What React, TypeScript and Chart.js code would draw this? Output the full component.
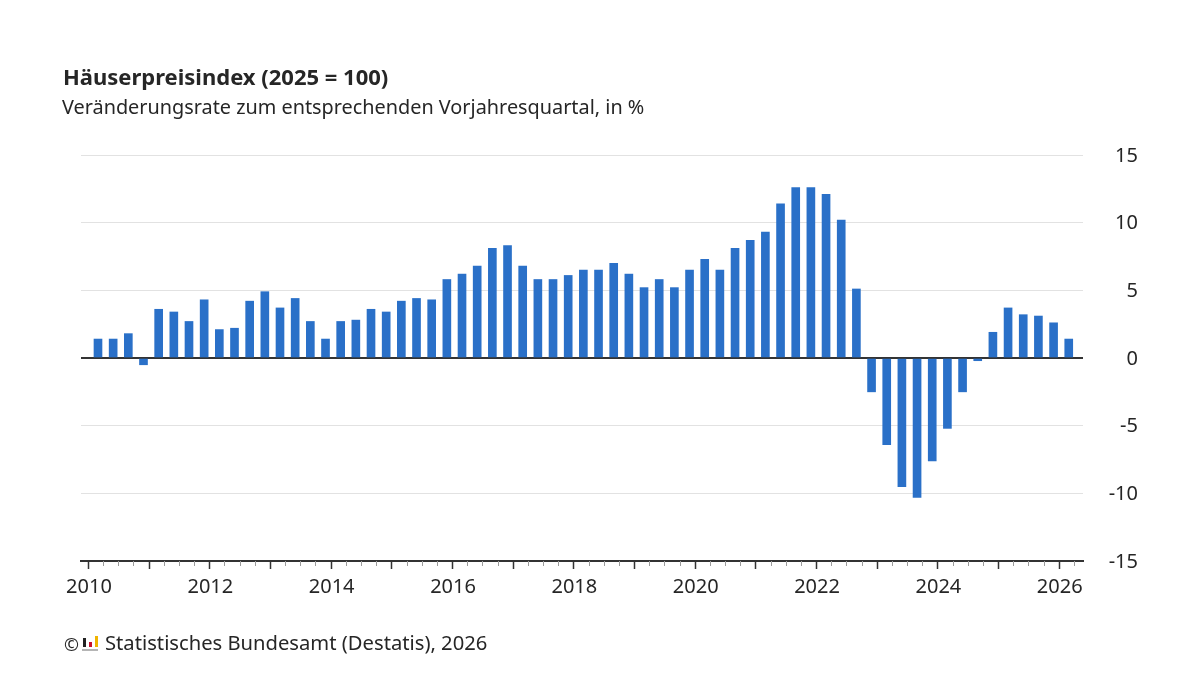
import { useEffect, useRef } from "react";
import Chart from "chart.js/auto";

const FONT = '"Noto Sans", sans-serif';
const TEXT_COLOR = "#262626";

const titleText = "Häuserpreisindex (2025 = 100)";
const subtitleText = "Veränderungsrate zum entsprechenden Vorjahresquartal, in %";
const sourceText = "Statistisches Bundesamt (Destatis), 2026";

const firstYear = 2010;
const yTicks = [-15, -10, -5, 0, 5, 10, 15];
const changeRates = [
  1.4, 1.4, 1.8, -0.5,
  3.6, 3.4, 2.7, 4.3,
  2.1, 2.2, 4.2, 4.9,
  3.7, 4.4, 2.7, 1.4,
  2.7, 2.8, 3.6, 3.4,
  4.2, 4.4, 4.3, 5.8,
  6.2, 6.8, 8.1, 8.3,
  6.8, 5.8, 5.8, 6.1,
  6.5, 6.5, 7.0, 6.2,
  5.2, 5.8, 5.2, 6.5,
  7.3, 6.5, 8.1, 8.7,
  9.3, 11.4, 12.6, 12.6,
  12.1, 10.2, 5.1, -2.5,
  -6.4, -9.5, -10.3, -7.6,
  -5.2, -2.5, -0.2, 1.9,
  3.7, 3.2, 3.1, 2.6,
  1.4,
];

// bars sit a bit right of the quarter tick in the original
const barShift = 0.165;

// short ticks every quarter, longer ones on full years
const axisTickMarks = {
  id: "axisTickMarks",
  afterDatasetsDraw(chart: any) {
    const scale = chart.scales.x;
    const ctx = chart.ctx;
    const bottom = chart.chartArea.bottom;
    ctx.save();
    scale.ticks.forEach((tick: any, i: number) => {
      const px = Math.round(scale.getPixelForTick(i)) + 0.5;
      const full = Number.isInteger(tick.value);
      ctx.strokeStyle = full ? "#333333" : "#9a9a9a";
      ctx.lineWidth = full ? 1.5 : 1;
      ctx.beginPath();
      ctx.moveTo(px, bottom);
      ctx.lineTo(px, bottom + (full ? 8 : 5));
      ctx.stroke();
    });
    ctx.restore();
  },
};

const App = () => {
  const canvasRef = useRef<HTMLCanvasElement>(null);

  useEffect(() => {
    if (!canvasRef.current) return;

    const myChart = new Chart(canvasRef.current, {
      type: "bar",
      data: {
        datasets: [
          {
            data: changeRates.map((y, i) => ({ x: firstYear + i / 4 + barShift, y })),
            backgroundColor: "#2a70c8",
            barThickness: 8,
          },
        ],
      },
      plugins: [axisTickMarks],
      options: {
        responsive: false,
        animation: false,
        devicePixelRatio: 1,
        layout: { padding: { left: 81, right: 62, top: 155, bottom: 0 } },
        plugins: {
          legend: { display: false },
          tooltip: { enabled: false },
        },
        scales: {
          x: {
            type: "linear",
            offset: false,
            min: 2009.885,
            max: 2026.4,
            afterBuildTicks: (scale: any) => {
              const ticks = [];
              for (let v = firstYear; v <= 2026.25; v += 0.25) ticks.push({ value: v });
              scale.ticks = ticks;
            },
            afterFit: (scale: any) => {
              scale.height = 114;
            },
            grid: { display: false, drawTicks: false },
            border: { display: true, color: "#333333", width: 2 },
            ticks: {
              autoSkip: false,
              maxRotation: 0,
              padding: 14,
              labelOffset: 1,
              color: TEXT_COLOR,
              font: { family: FONT, size: 20 },
              callback: (value: any) => (Number.isInteger(value) && value % 2 === 0 ? String(value) : ""),
            },
          },
          y: {
            position: "right",
            min: -15,
            max: 15,
            afterBuildTicks: (scale: any) => {
              scale.ticks = yTicks.map((value) => ({ value }));
            },
            afterFit: (scale: any) => {
              scale.width = 55;
            },
            grid: {
              drawTicks: false,
              color: (c: any) => (c.tick.value === 0 ? "#333333" : c.tick.value === -15 ? "rgba(0,0,0,0)" : "#e2e2e2"),
              lineWidth: (c: any) => (c.tick.value === 0 ? 2 : 1),
            },
            border: { display: false },
            ticks: {
              padding: 32,
              crossAlign: "far",
              labelOffset: 1,
              color: TEXT_COLOR,
              font: { family: FONT, size: 20 },
            },
          },
        },
      },
    });

    return () => {
      myChart.destroy();
    };
  }, []);

  return (
    <div style={{ position: "absolute", left: 0, top: 0, width: 1200, height: 675, background: "#fff", fontFamily: FONT, color: TEXT_COLOR }}>
      <canvas ref={canvasRef} width={1200} height={675} style={{ position: "absolute", left: 0, top: 0 }}></canvas>
      <div style={{ position: "absolute", left: 63, top: 60, fontSize: 22, fontWeight: 700, lineHeight: "32px", whiteSpace: "nowrap" }}>
        {titleText}
      </div>
      <div style={{ position: "absolute", left: 62, top: 93, fontSize: 19.85, lineHeight: "28px", whiteSpace: "nowrap" }}>
        {subtitleText}
      </div>
      <div style={{ position: "absolute", left: 64, top: 630, fontSize: 18, lineHeight: "28px" }}>©</div>
      {/* Destatis logo */}
      <div style={{ position: "absolute", left: 83, top: 638, width: 3, height: 9, background: "#222" }}></div>
      <div style={{ position: "absolute", left: 89, top: 642, width: 3, height: 5, background: "#c8102e" }}></div>
      <div style={{ position: "absolute", left: 95, top: 636, width: 3, height: 11, background: "#f0b400" }}></div>
      <div style={{ position: "absolute", left: 82, top: 649, width: 16, height: 2, background: "#b5b5b5" }}></div>
      <div style={{ position: "absolute", left: 105, top: 628, fontSize: 20.2, lineHeight: "28px", whiteSpace: "nowrap" }}>
        {sourceText}
      </div>
    </div>
  );
};

export default App;
